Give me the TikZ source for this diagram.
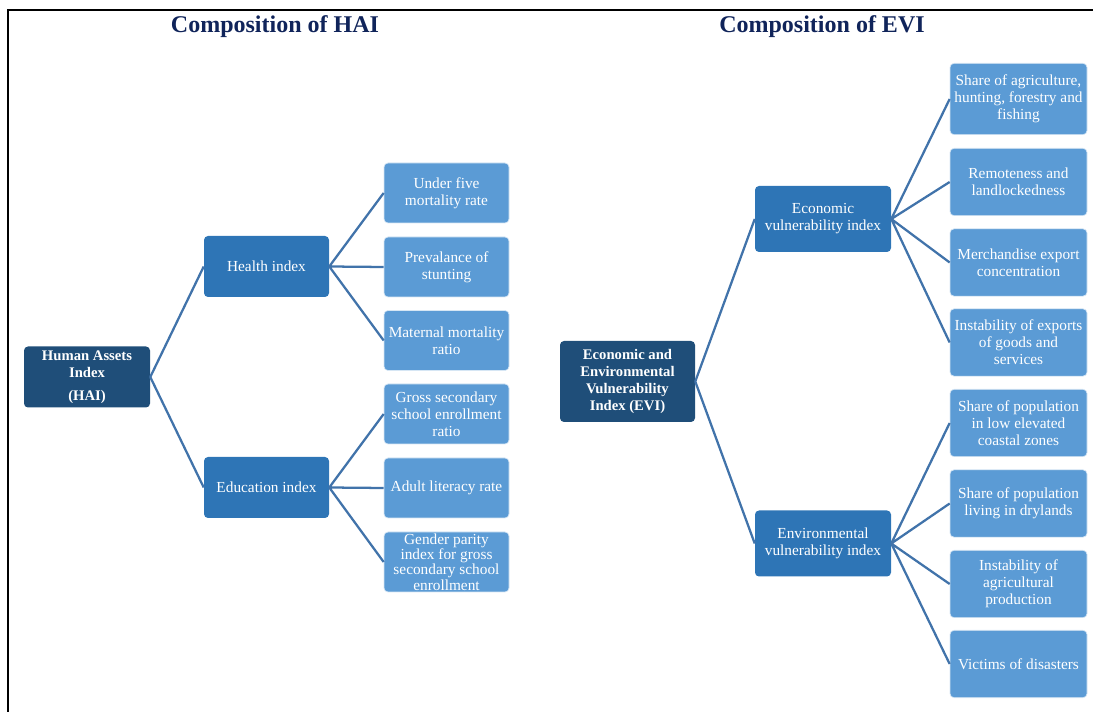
\documentclass[tikz,border=0pt]{standalone}
\usepackage{fontspec}
\setmainfont{Liberation Serif}
\definecolor{rootblue}{RGB}{31,78,121}
\definecolor{midblue}{RGB}{46,117,182}
\definecolor{leafblue}{RGB}{91,155,213}
\definecolor{linkblue}{RGB}{65,115,170}
\definecolor{titleblue}{RGB}{16,36,90}
\begin{document}
\begin{tikzpicture}[x=0.75pt, y=-0.75pt,
box/.style={rounded corners=3pt, text=white, align=center, inner sep=1pt,
  font=\fontsize{11.5}{12.8}\selectfont},
rootbox/.style={box, fill=rootblue, font=\fontsize{11}{12.8}\selectfont\bfseries},
midbox/.style={box, fill=midblue},
leafbox/.style={box, fill=leafblue, draw=white!75!leafblue, line width=0.5pt},
link/.style={draw=linkblue, line width=1.7pt},
heading/.style={text=titleblue, font=\fontsize{18}{21}\selectfont\bfseries}]
\useasboundingbox (0,0) rectangle (1093,712);
\draw[line width=1.5pt] (8,712) |- (1093,10);

% HAI
\node[heading] (haititle) at (275,27) {Composition of HAI};
\node[rootbox, minimum width=94.5pt, minimum height=45.75pt] (hai) at (87,377)
  {Human Assets\\Index\\[4pt](HAI)};
\node[midbox, minimum width=93.75pt, minimum height=45.75pt] (health) at (266.5,266.5) {Health index};
\node[midbox, minimum width=93.75pt, minimum height=45.75pt] (edu) at (266.5,487.5) {Education index};
\node[leafbox, minimum width=93.75pt, minimum height=45pt] (ufive) at (446.5,193) {Under five\\mortality rate};
\node[leafbox, minimum width=93.75pt, minimum height=45pt] (stunt) at (446.5,267) {Prevalance of\\stunting};
\node[leafbox, minimum width=93.75pt, minimum height=45pt] (mater) at (446.5,340.5) {Maternal mortality\\ratio};
\node[leafbox, minimum width=93.75pt, minimum height=45pt] (gross) at (446.5,414) {Gross secondary\\school enrollment\\ratio};
\node[leafbox, minimum width=93.75pt, minimum height=45pt] (adult) at (446.5,488) {Adult literacy rate};
\node[leafbox, minimum width=93.75pt, minimum height=45pt, inner sep=0pt,
  font=\fontsize{11.5}{11.6}\selectfont] (gender) at (446.5,562)
  {Gender parity\\index for gross\\secondary school\\enrollment};
\draw[link] (hai.east) -- (health.west) (hai.east) -- (edu.west);
\draw[link] (health.east) -- (ufive.west) (health.east) -- (stunt.west) (health.east) -- (mater.west);
\draw[link] (edu.east) -- (gross.west) (edu.east) -- (adult.west) (edu.east) -- (gender.west);

% EVI
\node[heading] (evititle) at (822,27) {Composition of EVI};
\node[rootbox, minimum width=101.25pt, minimum height=60.75pt] (evi) at (627.5,381.5)
  {Economic and\\Environmental\\Vulnerability\\Index (EVI)};
\node[midbox, minimum width=102pt, minimum height=49.5pt] (econ) at (823,219) {Economic\\vulnerability index};
\node[midbox, minimum width=102pt, minimum height=49.5pt] (envi) at (823,543.5) {Environmental\\vulnerability index};
\node[leafbox, minimum width=102.75pt, minimum height=53.5pt] (agri) at (1018.5,99) {Share of agriculture,\\hunting, forestry and\\fishing};
\node[leafbox, minimum width=102.75pt, minimum height=50.5pt] (remote) at (1018.5,182) {Remoteness and\\landlockedness};
\node[leafbox, minimum width=102.75pt, minimum height=50.5pt] (merch) at (1018.5,262.5) {Merchandise export\\concentration};
\node[leafbox, minimum width=102.75pt, minimum height=50.5pt] (exports) at (1018.5,342.5) {Instability of exports\\of goods and\\services};
\node[leafbox, minimum width=102.75pt, minimum height=50.5pt] (coast) at (1018.5,423) {Share of population\\in low elevated\\coastal zones};
\node[leafbox, minimum width=102.75pt, minimum height=50.5pt] (dry) at (1018.5,503.5) {Share of population\\living in drylands};
\node[leafbox, minimum width=102.75pt, minimum height=50.5pt] (agprod) at (1018.5,584) {Instability of\\agricultural\\production};
\node[leafbox, minimum width=102.75pt, minimum height=50.5pt] (victims) at (1018.5,664) {Victims of disasters};
\draw[link] (evi.east) -- (econ.west) (evi.east) -- (envi.west);
\draw[link] (econ.east) -- (agri.west) (econ.east) -- (remote.west) (econ.east) -- (merch.west) (econ.east) -- (exports.west);
\draw[link] (envi.east) -- (coast.west) (envi.east) -- (dry.west) (envi.east) -- (agprod.west) (envi.east) -- (victims.west);
\end{tikzpicture}
\end{document}
